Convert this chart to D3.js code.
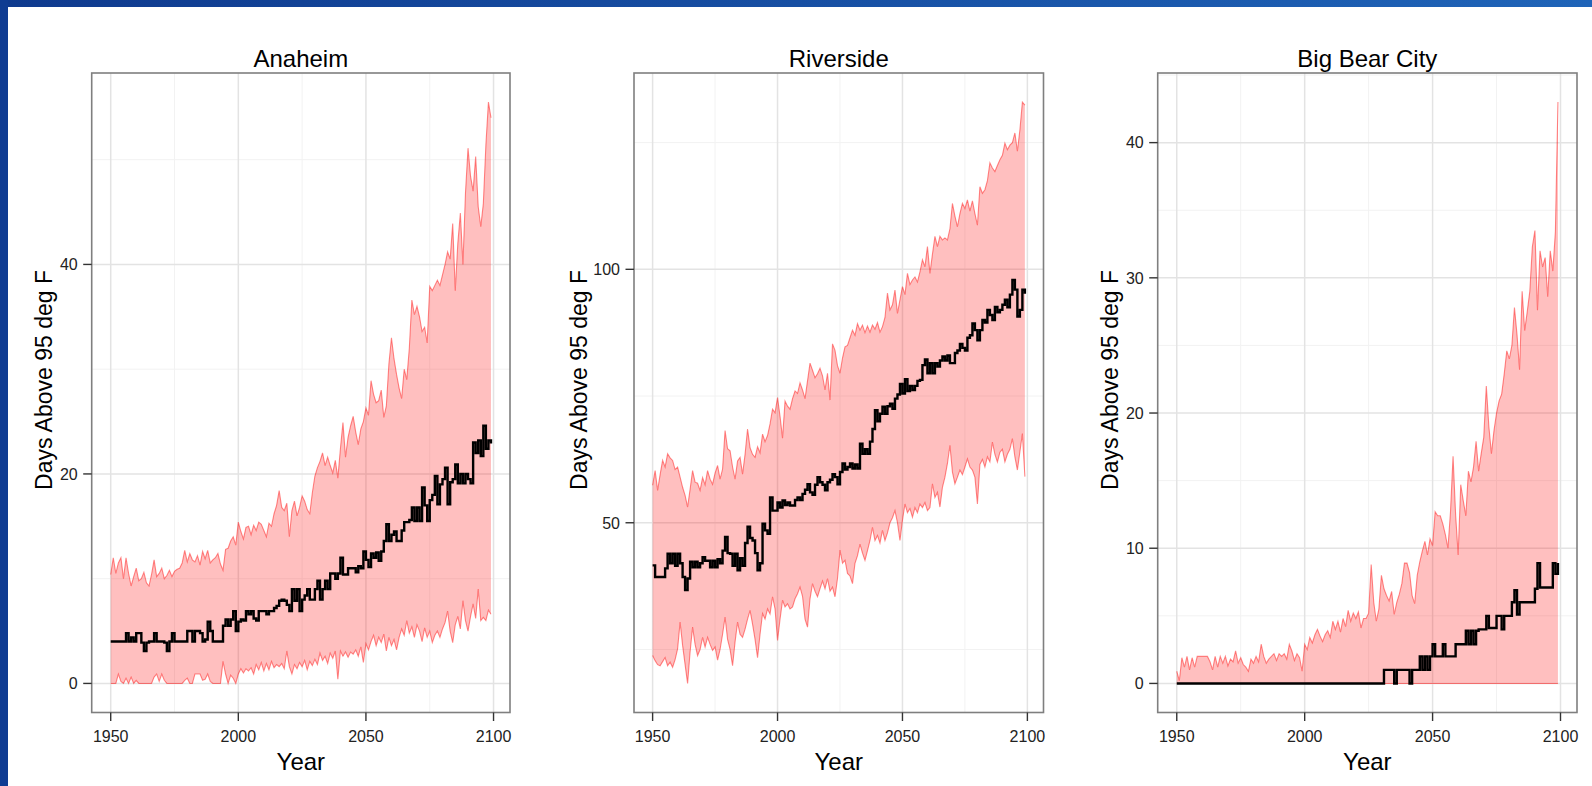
<!DOCTYPE html>
<html>
<head>
<meta charset="utf-8">
<script src="https://cdnjs.cloudflare.com/ajax/libs/d3/7.8.5/d3.min.js"></script>
<style>
    html, body { margin: 0; padding: 0; background: #fff; overflow: hidden; }
    svg { display: block; font-family: "Liberation Sans", Arial, sans-serif; }
</style>
</head>
<body>
<svg id="chart" width="1592" height="786"></svg>
<script>
// Days above 95 deg F - ribbon (range) plus median, one panel per city
const years = d3.range(1950, 2100);
const cities = ['Anaheim', 'Riverside', 'Big Bear City'];

const yearTicks = [1950, 2000, 2050, 2100];
const yearMinorTicks = [1975, 2025, 2075];

const anaheimTicks = [0, 20, 40];
const anaheimMinorTicks = [10, 30, 50];
const riversideTicks = [50, 100];
const riversideMinorTicks = [25, 75, 125];
const bigBearTicks = [0, 10, 20, 30, 40];
const bigBearMinorTicks = [5, 15, 25, 35, 45];

const anaheimUpper = [
    10.4, 12.0, 10.5, 11.5, 12.0, 10.0, 12.0, 10.5, 9.3, 10.2,
    11.0, 9.8, 10.0, 10.6, 9.6, 9.3, 10.4, 11.8, 10.2, 10.5,
    11.0, 10.0, 10.3, 10.8, 10.2, 10.7, 10.9, 11.0, 11.5, 12.7,
    11.6, 12.4, 11.8, 11.6, 12.2, 11.3, 12.6, 11.9, 12.7, 11.5,
    11.8, 12.0, 12.4, 11.4, 10.8, 12.8, 12.9, 13.6, 14.0, 13.2,
    15.4, 14.5, 13.8, 14.9, 15.0, 14.2, 15.1, 14.6, 15.4, 15.2,
    14.6, 14.0, 15.3, 15.0, 16.2, 17.0, 18.4, 16.8, 16.5, 17.2,
    14.0, 16.5, 17.4, 16.0, 16.8, 17.9, 17.4, 16.6, 16.2, 18.2,
    19.8, 20.6, 21.2, 22.0, 20.8, 21.6, 20.8, 20.1, 21.3, 19.6,
    22.4, 24.9, 21.6, 23.5, 24.6, 25.5, 24.0, 22.8, 24.3, 25.0,
    26.3, 25.6, 28.9, 27.6, 26.8, 27.0, 28.0, 25.4, 26.5, 30.5,
    33.0, 31.0, 29.5, 28.2, 27.2, 30.0, 29.0, 32.0, 36.6, 35.2,
    36.0, 35.0, 33.6, 34.0, 32.5, 37.9, 37.5, 38.0, 38.5, 38.0,
    39.0, 40.0, 41.2, 40.5, 43.9, 37.5, 42.0, 44.9, 40.0, 46.8,
    51.1, 48.4, 47.0, 50.3, 45.5, 43.6, 45.8, 51.4, 55.5, 54.0
];
const anaheimLower = [
    0, 0, 0, 0.9, 0.2, 0, 0.5, 0, 0.6, 0,
    0.3, 0, 0, 0, 0, 0, 0, 0.6, 0.9, 0.2,
    0.9, 0.3, 0, 0, 0, 0, 0, 0, 0, 0.3,
    0.5, 0, 0, 0.9, 0.9, 0.9, 0.3, 0.4, 0.9, 0.2,
    0, 0, 0, 0, 2.1, 0.9, 0, 0.8, 0.5, 0,
    0.9, 1.4, 1.0, 1.4, 1.2, 1.5, 0.9, 1.8, 1.3, 2.0,
    1.2, 1.9, 1.3, 2.1, 1.5, 1.8, 1.6, 1.9, 1.4, 3.1,
    1.6, 0.9, 1.8, 1.4, 2.0, 1.6, 2.2, 1.3, 2.1, 1.7,
    2.3, 1.8, 2.9, 2.2, 2.6, 1.9, 2.9, 2.4, 3.1, 0.4,
    3.1, 2.6, 3.0, 2.5, 3.0, 2.8, 3.2, 2.6, 3.5, 2.0,
    3.8, 3.2, 4.0, 4.6, 3.6, 4.4, 3.9, 4.7, 3.1, 4.4,
    3.6, 4.2, 3.2, 4.4, 5.2, 4.6, 6.0, 4.8, 5.4, 4.4,
    5.6, 5.0, 4.0, 5.3, 4.4, 5.0, 3.9, 4.6, 5.0, 4.4,
    5.2, 5.8, 6.9, 5.0, 3.9, 5.6, 6.4, 5.2, 7.9, 6.0,
    5.0, 6.4, 7.6, 6.2, 9.0, 6.0, 6.3, 6.0, 7.0, 6.6
];
const anaheimMedian = [
    4, 4, 4, 4, 4, 4, 4.8, 4, 4.4, 4,
    4.8, 4.8, 3.9, 3.1, 3.9, 4, 4, 4.8, 4, 4,
    4, 3.9, 3.1, 4, 4.8, 4, 4, 4, 4, 4,
    5, 5, 4, 5, 5, 4.8, 4, 4.2, 5.9, 5,
    4, 4, 4, 4, 5.5, 6.1, 5.5, 6.1, 6.9, 5.0,
    5.9, 6.1, 6.0, 6.9, 6.6, 6.9, 6.2, 6.0, 6.9, 6.9,
    6.9, 6.6, 6.9, 6.9, 7.2, 7.4, 7.9, 8.0, 7.9, 7.5,
    6.9, 9.0, 7.9, 9.0, 6.9, 8.0, 8.4, 9.0, 8.0, 8.0,
    9.0, 9.8, 8.0, 9.0, 9.8, 9.0, 10.5, 10.5, 10.0, 10.5,
    12.0, 10.4, 10.4, 11.0, 11.0, 11.0, 10.6, 11.2, 11.0, 12.6,
    11.8, 11.1, 12.4, 12.0, 12.5, 11.7, 12.6, 13.6, 15.2, 13.6,
    14.2, 14.5, 13.6, 13.6, 14.6, 15.4, 15.4, 15.6, 16.8, 15.5,
    16.8, 15.5, 18.7, 17.0, 15.5, 17.5, 18.0, 19.8, 17.1, 19.0,
    19.5, 20.6, 17.1, 19.2, 19.5, 20.9, 19.1, 20.0, 19.1, 20.0,
    19.5, 19.1, 23.0, 22.0, 23.2, 21.7, 24.6, 22.4, 23.2, 22.9
];

const riversideUpper = [
    57.4, 60.3, 56.4, 59.5, 62.3, 61.0, 63.6, 62.8, 62.3, 60.5,
    61.0, 59.0, 57.0, 55.4, 53.1, 56.6, 60.3, 58.0, 57.8, 56.4,
    58.9, 57.5, 60.3, 58.6, 57.6, 59.8, 61.3, 58.6, 60.6, 68.2,
    64.6, 64.2, 61.0, 58.6, 62.2, 62.9, 59.6, 63.5, 68.5, 64.8,
    63.5, 62.9, 65.0, 63.8, 67.5, 66.0, 67.2, 69.5, 72.4, 71.7,
    74.7, 71.0, 66.7, 74.0, 73.0, 72.4, 74.5, 76.0, 75.5, 77.6,
    76.2, 74.5, 78.0, 81.5, 80.1, 78.6, 79.4, 80.5, 79.0, 76.2,
    79.5, 74.2, 85.3, 84.0, 81.0, 79.5, 82.5, 84.7, 85.0, 86.5,
    88.0, 87.0, 89.3, 88.0, 89.0, 87.5, 88.8, 87.6, 89.0, 88.2,
    89.5, 87.6, 88.7, 90.5, 95.3, 92.0, 93.0, 95.9, 91.3, 94.0,
    96.6, 95.0, 99.2, 97.0, 97.9, 98.5, 97.5, 99.5, 101.9, 100.5,
    104.5, 99.2, 103.0, 106.5, 104.5, 106.5, 105.8, 106.2, 105.8, 108.0,
    113.0, 110.5, 108.4, 111.0, 113.0, 112.0, 113.7, 111.5, 113.5, 111.0,
    108.7, 116.3, 115.0, 115.7, 117.5, 121.0, 120.0, 119.3, 120.5, 121.6,
    122.5, 124.9, 123.6, 124.5, 125.0, 126.9, 123.3, 127.5, 133.0, 132.4
];
const riversideLower = [
    23.8, 22.8, 22.0, 21.8, 22.6, 23.4, 21.8, 22.5, 21.5, 23.0,
    25.1, 30.4, 25.8, 22.0, 18.3, 24.5, 29.4, 26.0, 23.8, 25.0,
    27.4, 25.5, 27.4, 26.0, 24.8, 25.5, 22.9, 25.0, 28.0, 31.4,
    27.0, 25.0, 21.8, 26.5, 30.4, 28.0, 27.4, 29.0, 31.0, 32.7,
    30.0, 27.0, 23.4, 28.0, 32.1, 31.0, 33.0, 32.0, 35.4, 33.0,
    26.8, 31.0, 34.7, 33.4, 34.0, 33.0, 33.4, 35.0, 36.0, 37.3,
    35.5, 31.0, 29.4, 35.0, 38.0, 36.5, 35.4, 37.0, 38.5, 37.0,
    39.0, 36.5, 37.3, 35.4, 39.0, 44.6, 42.0, 42.6, 40.0, 39.5,
    38.0, 42.0, 43.5, 45.8, 44.0, 42.6, 44.5, 46.5, 49.1, 46.5,
    47.5, 46.0, 48.5, 46.5, 48.0, 50.0, 51.0, 52.4, 50.0, 46.5,
    50.5, 53.7, 52.0, 52.8, 51.1, 53.0, 52.0, 53.7, 53.0, 54.0,
    52.4, 53.0, 57.7, 55.0, 56.0, 53.1, 57.0, 59.0, 61.7, 65.3,
    60.0, 57.7, 59.0, 60.4, 59.5, 61.0, 62.6, 61.0, 60.4, 59.0,
    53.7, 61.5, 62.5, 61.0, 63.0, 62.0, 65.9, 63.5, 62.0, 63.9,
    64.5, 62.0, 63.5, 64.5, 66.6, 63.0, 60.4, 64.0, 67.6, 59.1
];
const riversideMedian = [
    41.6, 39.3, 39.3, 39.3, 39.3, 41.0, 43.9, 42.0, 43.9, 41.5,
    43.9, 42.0, 39.3, 36.7, 39.0, 42.3, 41.2, 42.3, 41.2, 42.0,
    43.2, 42.5, 42.5, 41.2, 42.5, 41.2, 42.8, 42.0, 44.5, 47.2,
    44.0, 43.9, 41.5, 43.9, 40.6, 43.0, 41.5, 46.0, 49.2, 47.0,
    46.5, 44.0, 40.6, 42.0, 49.8, 48.5, 47.8, 55.0, 52.4, 52.4,
    54.0, 53.0, 54.4, 53.5, 54.0, 53.4, 53.4, 54.5, 55.0, 54.5,
    55.7, 56.5, 57.6, 56.0, 55.5, 57.5, 59.0, 58.0, 57.5, 56.4,
    58.0, 58.5, 59.6, 59.0, 57.6, 60.0, 61.7, 60.5, 61.0, 61.7,
    60.7, 61.5, 60.7, 65.6, 63.6, 64.5, 63.6, 66.0, 68.5, 72.2,
    70.0, 71.5, 72.9, 71.5, 73.0, 73.5, 72.5, 74.5, 75.3, 77.4,
    75.5, 78.3, 76.0, 77.0, 76.2, 77.0, 78.0, 78.2, 81.1, 82.2,
    79.5, 81.5, 79.5, 81.5, 80.8, 82.0, 82.8, 82.0, 83.0, 81.5,
    81.5, 83.5, 84.0, 85.3, 84.5, 84.0, 86.5, 87.0, 89.3, 88.0,
    86.0, 88.0, 90.0, 89.5, 92.0, 91.0, 90.0, 92.6, 91.5, 92.0,
    93.0, 94.0, 92.5, 95.0, 97.9, 96.0, 90.7, 92.0, 96.0, 95.2
];

const bigBearUpper = [
    0.9, 0.2, 1.9, 1.2, 2.0, 1.0, 1.9, 1.2, 2.0, 2.0,
    2.0, 2.0, 2.0, 1.6, 1.0, 2.0, 1.2, 2.0, 1.5, 2.0,
    1.3, 1.8, 1.6, 2.4, 1.5, 1.9, 1.4, 1.2, 0.9, 1.8,
    1.5, 2.0, 1.6, 2.9, 2.0, 1.5, 1.8, 2.0, 2.2, 1.7,
    2.2, 2.0, 2.2, 1.8, 2.9, 2.4, 1.7, 2.2, 1.9, 0.9,
    2.9, 2.5, 3.4, 3.0, 3.6, 4.0, 3.5, 3.1, 3.6, 3.9,
    3.4, 4.6, 4.0, 4.6, 3.8, 4.8, 4.2, 5.4, 4.6, 5.2,
    4.8, 5.3, 4.1, 4.8, 4.8, 5.2, 8.8, 6.0, 4.6, 5.5,
    8.0, 7.0, 6.5, 6.1, 6.8, 5.1, 6.0, 6.6, 7.4, 8.9,
    8.9, 8.2, 6.5, 5.9, 8.0, 9.0, 9.8, 10.5, 9.5, 10.7,
    10.2, 12.7, 12.4, 12.4, 11.8, 11.0, 10.0, 12.7, 16.8, 12.5,
    9.5, 14.7, 13.5, 12.4, 15.7, 14.9, 16.0, 17.9, 15.7, 17.0,
    18.2, 22.0, 19.0, 17.0, 18.7, 20.0, 20.9, 21.4, 22.9, 24.6,
    24.0, 25.0, 27.8, 25.8, 23.2, 29.0, 26.1, 27.5, 29.0, 32.3,
    33.5, 27.6, 32.0, 30.8, 31.5, 28.6, 32.0, 30.5, 33.4, 43.0
];
const bigBearLower = [
    0, 0, 0, 0, 0, 0, 0, 0, 0, 0,
    0, 0, 0, 0, 0, 0, 0, 0, 0, 0,
    0, 0, 0, 0, 0, 0, 0, 0, 0, 0,
    0, 0, 0, 0, 0, 0, 0, 0, 0, 0,
    0, 0, 0, 0, 0, 0, 0, 0, 0, 0,
    0, 0, 0, 0, 0, 0, 0, 0, 0, 0,
    0, 0, 0, 0, 0, 0, 0, 0, 0, 0,
    0, 0, 0, 0, 0, 0, 0, 0, 0, 0,
    0, 0, 0, 0, 0, 0, 0, 0, 0, 0,
    0, 0, 0, 0, 0, 0, 0, 0, 0, 0,
    0, 0, 0, 0, 0, 0, 0, 0, 0, 0,
    0, 0, 0, 0, 0, 0, 0, 0, 0, 0,
    0, 0, 0, 0, 0, 0, 0, 0, 0, 0,
    0, 0, 0, 0, 0, 0, 0, 0, 0, 0,
    0, 0, 0, 0, 0, 0, 0, 0, 0, 0
];
const bigBearMedian = [
    0, 0, 0, 0, 0, 0, 0, 0, 0, 0,
    0, 0, 0, 0, 0, 0, 0, 0, 0, 0,
    0, 0, 0, 0, 0, 0, 0, 0, 0, 0,
    0, 0, 0, 0, 0, 0, 0, 0, 0, 0,
    0, 0, 0, 0, 0, 0, 0, 0, 0, 0,
    0, 0, 0, 0, 0, 0, 0, 0, 0, 0,
    0, 0, 0, 0, 0, 0, 0, 0, 0, 0,
    0, 0, 0, 0, 0, 0, 0, 0, 0, 0,
    0, 1, 1, 1, 1, 0, 1, 1, 1, 1,
    1, 0, 1, 1, 1, 2, 1, 2, 1, 2,
    2.9, 2, 2, 2, 2.9, 2, 2, 2, 2, 2.9,
    2.9, 2.9, 2.9, 3.9, 2.9, 3.9, 2.9, 3.9, 4, 4,
    4, 5, 4.1, 4.1, 4.1, 5, 5, 4, 5, 5,
    5, 6, 6.9, 5.1, 6, 6, 6, 6, 6, 6,
    7, 8.9, 7.1, 7.1, 7.1, 7.1, 7.1, 8.9, 8.1, 8.9
];

const svg = d3.select('#chart');
const width = 1592;
const height = 786;

// slide frame (blue strips on the left and top)
const defs = svg.append('defs');
const frameGrad = defs.append('linearGradient')
    .attr('id', 'frameGrad')
    .attr('x1', '0%').attr('y1', '0%')
    .attr('x2', '100%').attr('y2', '0%');
frameGrad.append('stop').attr('offset', '0%').attr('stop-color', '#0f3a8e');
frameGrad.append('stop').attr('offset', '100%').attr('stop-color', '#1f64b8');

svg.append('rect').attr('width', width).attr('height', height).attr('fill', '#fff');
svg.append('rect').attr('x', 0).attr('y', 0).attr('width', width).attr('height', 7)
    .attr('fill', 'url(#frameGrad)');
svg.append('rect').attr('x', 0).attr('y', 0).attr('width', 8).attr('height', height)
    .attr('fill', '#0f3c92');

const panels = [
    { name: cities[0], upper: anaheimUpper, lower: anaheimLower, median: anaheimMedian,
      ticks: anaheimTicks, minor: anaheimMinorTicks, left: 91.7, right: 510, ylabX: 52 },
    { name: cities[1], upper: riversideUpper, lower: riversideLower, median: riversideMedian,
      ticks: riversideTicks, minor: riversideMinorTicks, left: 634, right: 1043.5, ylabX: 587 },
    { name: cities[2], upper: bigBearUpper, lower: bigBearLower, median: bigBearMedian,
      ticks: bigBearTicks, minor: bigBearMinorTicks, left: 1157.7, right: 1577, ylabX: 1118 }
];
const panelTop = 73;
const panelBottom = 712.5;

// ggplot-style 5% expansion
function expand(ext) {
    const pad = (ext[1] - ext[0]) * 0.05;
    return [ext[0] - pad, ext[1] + pad];
}

panels.forEach(p => {
    const g = svg.append('g');
    const x = d3.scaleLinear().domain(expand(d3.extent(years))).range([p.left, p.right]);
    const allVals = p.upper.concat(p.lower, p.median);
    const y = d3.scaleLinear().domain(expand(d3.extent(allVals))).range([panelBottom, panelTop]);

    const rows = years.map((yr, i) => ({ yr, lo: p.lower[i], hi: p.upper[i], med: p.median[i] }));

    // grid: minor then major
    g.selectAll('.vminor').data(yearMinorTicks).join('line')
        .attr('x1', d => x(d)).attr('x2', d => x(d))
        .attr('y1', panelTop).attr('y2', panelBottom)
        .attr('stroke', '#f2f2f2').attr('stroke-width', 1);
    g.selectAll('.hminor').data(p.minor.filter(d => d > y.domain()[0] && d < y.domain()[1])).join('line')
        .attr('x1', p.left).attr('x2', p.right)
        .attr('y1', d => y(d)).attr('y2', d => y(d))
        .attr('stroke', '#f2f2f2').attr('stroke-width', 1);
    g.selectAll('.vmajor').data(yearTicks).join('line')
        .attr('x1', d => x(d)).attr('x2', d => x(d))
        .attr('y1', panelTop).attr('y2', panelBottom)
        .attr('stroke', '#e3e3e3').attr('stroke-width', 1.5);
    g.selectAll('.hmajor').data(p.ticks).join('line')
        .attr('x1', p.left).attr('x2', p.right)
        .attr('y1', d => y(d)).attr('y2', d => y(d))
        .attr('stroke', '#e3e3e3').attr('stroke-width', 1.5);

    // ribbon
    const area = d3.area().x(d => x(d.yr)).y0(d => y(d.lo)).y1(d => y(d.hi));
    g.append('path').datum(rows)
        .attr('d', area)
        .attr('fill', '#ff0000').attr('fill-opacity', 0.25);
    const upperLine = d3.line().x(d => x(d.yr)).y(d => y(d.hi));
    const lowerLine = d3.line().x(d => x(d.yr)).y(d => y(d.lo));
    [upperLine, lowerLine].forEach(ln => {
        g.append('path').datum(rows)
            .attr('d', ln)
            .attr('fill', 'none')
            .attr('stroke', '#ff0000').attr('stroke-opacity', 0.45)
            .attr('stroke-width', 1.1);
    });

    // median
    const medLine = d3.line().x(d => x(d.yr)).y(d => y(d.med)).curve(d3.curveStepAfter);
    g.append('path').datum(rows)
        .attr('d', medLine)
        .attr('fill', 'none')
        .attr('stroke', '#000')
        .attr('stroke-width', 2.4)
        .attr('stroke-linejoin', 'miter');

    // panel border
    g.append('rect')
        .attr('x', p.left).attr('y', panelTop)
        .attr('width', p.right - p.left).attr('height', panelBottom - panelTop)
        .attr('fill', 'none').attr('stroke', '#7f7f7f').attr('stroke-width', 1.6);

    // y axis ticks and labels
    g.selectAll('.ytick').data(p.ticks).join('line')
        .attr('x1', p.left - 8.5).attr('x2', p.left)
        .attr('y1', d => y(d)).attr('y2', d => y(d))
        .attr('stroke', '#333').attr('stroke-width', 1.4);
    g.selectAll('.ylab').data(p.ticks).join('text')
        .attr('x', p.left - 14).attr('y', d => y(d) + 5.8)
        .attr('text-anchor', 'end')
        .attr('font-size', 16).attr('fill', '#222')
        .text(d => d);

    // x axis ticks and labels
    g.selectAll('.xtick').data(yearTicks).join('line')
        .attr('x1', d => x(d)).attr('x2', d => x(d))
        .attr('y1', panelBottom).attr('y2', panelBottom + 8.5)
        .attr('stroke', '#333').attr('stroke-width', 1.4);
    g.selectAll('.xlab').data(yearTicks).join('text')
        .attr('x', d => x(d)).attr('y', 741.5)
        .attr('text-anchor', 'middle')
        .attr('font-size', 16).attr('fill', '#222')
        .text(d => d);

    // titles
    const cx = (p.left + p.right) / 2;
    g.append('text')
        .attr('x', cx).attr('y', 66.5)
        .attr('text-anchor', 'middle')
        .attr('font-size', 24).attr('fill', '#000')
        .text(p.name);
    g.append('text')
        .attr('x', cx).attr('y', 770)
        .attr('text-anchor', 'middle')
        .attr('font-size', 24).attr('fill', '#000')
        .text('Year');
    g.append('text')
        .attr('transform', `translate(${p.ylabX},380) rotate(-90)`)
        .attr('text-anchor', 'middle')
        .attr('font-size', 23).attr('fill', '#000')
        .text('Days Above 95 deg F');
});
</script>
</body>
</html>
